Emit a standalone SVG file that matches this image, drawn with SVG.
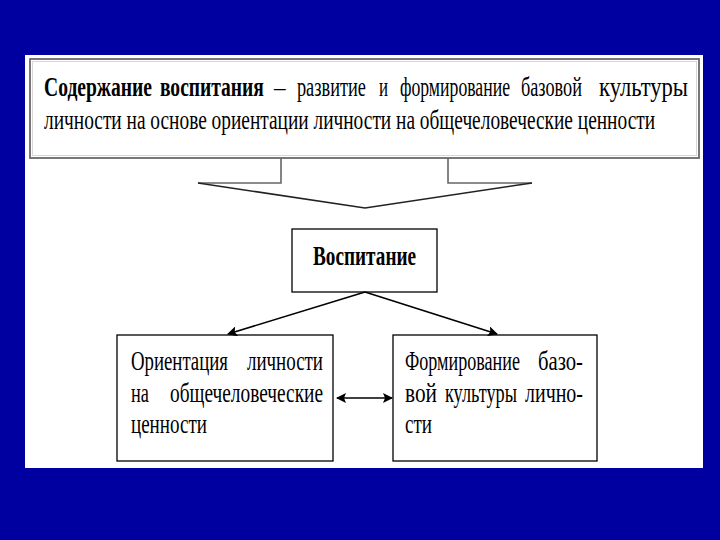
<svg xmlns="http://www.w3.org/2000/svg" width="720" height="540" viewBox="0 0 720 540">
<defs>
<style>
.t{font-family:"Liberation Serif","Times New Roman",serif;font-size:27px;fill:#000}
.b{font-weight:bold}
.box{fill:#fff;stroke:#000;stroke-width:1.3}
.gbox{fill:#fff;stroke:#6a6a6a;stroke-width:1.8}
.ln{stroke:#000;stroke-width:1.6;fill:none}
</style>
<marker id="ah2" viewBox="0 0 10 10" refX="9" refY="5" markerWidth="11" markerHeight="10" markerUnits="userSpaceOnUse" orient="auto-start-reverse">
<path d="M0,0 L10,5 L0,10 L2,5 Z" fill="#000"/>
</marker>
</defs>
<rect x="0" y="0" width="720" height="540" fill="#0000a0"/>
<rect x="25" y="55" width="678" height="413" fill="#fff"/>

<g id="content">
<rect class="gbox" x="30" y="59" width="669" height="99"/>
<rect x="32.5" y="61.5" width="664" height="94" fill="none" stroke="#d8d8d8" stroke-width="1"/>
<g transform="scale(0.86,1)">
<text class="t b" x="51.2" y="96" textLength="125.6" lengthAdjust="spacingAndGlyphs">Содержание</text>
<text class="t b" x="186" y="96" textLength="120.9" lengthAdjust="spacingAndGlyphs">воспитания</text>
<text class="t" x="318.6" y="96">–</text>
<text class="t" x="345.3" y="96" textLength="80.2" lengthAdjust="spacingAndGlyphs">развитие</text>
<text class="t" x="440.7" y="96" textLength="10.5" lengthAdjust="spacingAndGlyphs">и</text>
<text class="t" x="465.1" y="96" textLength="127.9" lengthAdjust="spacingAndGlyphs">формирование</text>
<text class="t" x="605.8" y="96" textLength="70.9" lengthAdjust="spacingAndGlyphs">базовой</text>
<text class="t" x="696.5" y="96" textLength="103.5" lengthAdjust="spacingAndGlyphs">культуры</text>
<text class="t" x="51.2" y="129" textLength="710.5" lengthAdjust="spacingAndGlyphs">личности на основе ориентации личности на общечеловеческие ценности</text>
</g>
</g>

<g id="bigarrow">
<path d="M281,158 V183 H198" fill="none" stroke="#666" stroke-width="1.6"/>
<path d="M532,183 H448 V158" fill="none" stroke="#666" stroke-width="1.6"/>
<path d="M198,183 L365,208 L532,183" fill="none" stroke="#222" stroke-width="1.5"/>
</g>

<g id="vospitanie">
<rect class="box" x="292" y="229" width="145" height="63"/>
<g transform="scale(0.86,1)">
<text class="t b" x="364" y="265" textLength="119.8" lengthAdjust="spacingAndGlyphs">Воспитание</text>
</g>
</g>

<g id="orientation">
<rect class="box" x="117" y="335" width="216" height="126"/>
<g transform="scale(0.86,1)">
<text class="t" x="152.3" y="370" textLength="112.8" lengthAdjust="spacingAndGlyphs">Ориентация</text>
<text class="t" x="287.2" y="370" textLength="88.4" lengthAdjust="spacingAndGlyphs">личности</text>
<text class="t" x="152.3" y="402" textLength="20.9" lengthAdjust="spacingAndGlyphs">на</text>
<text class="t" x="197.7" y="402" textLength="177.9" lengthAdjust="spacingAndGlyphs">общечеловеческие</text>
<text class="t" x="152.3" y="433" textLength="88.4" lengthAdjust="spacingAndGlyphs">ценности</text>
</g>
</g>

<g id="formirovanie">
<rect class="box" x="393" y="335" width="204" height="126"/>
<g transform="scale(0.86,1)">
<text class="t" x="470.9" y="370" textLength="133.7" lengthAdjust="spacingAndGlyphs">Формирование</text>
<text class="t" x="625.6" y="370" textLength="52.3" lengthAdjust="spacingAndGlyphs">базо-</text>
<text class="t" x="470.9" y="402" textLength="37.2" lengthAdjust="spacingAndGlyphs">вой</text>
<text class="t" x="517.4" y="402" textLength="83.7" lengthAdjust="spacingAndGlyphs">культуры</text>
<text class="t" x="610.5" y="402" textLength="67.4" lengthAdjust="spacingAndGlyphs">лично-</text>
<text class="t" x="470.9" y="433" textLength="31.4" lengthAdjust="spacingAndGlyphs">сти</text>
</g>
</g>

<g id="connectors">
<line class="ln" x1="365" y1="292" x2="228" y2="334" marker-end="url(#ah2)"/>
<line class="ln" x1="365" y1="292" x2="497" y2="334" marker-end="url(#ah2)"/>
<line class="ln" x1="337" y1="398" x2="392" y2="398" marker-start="url(#ah2)" marker-end="url(#ah2)"/>
</g>
</svg>
